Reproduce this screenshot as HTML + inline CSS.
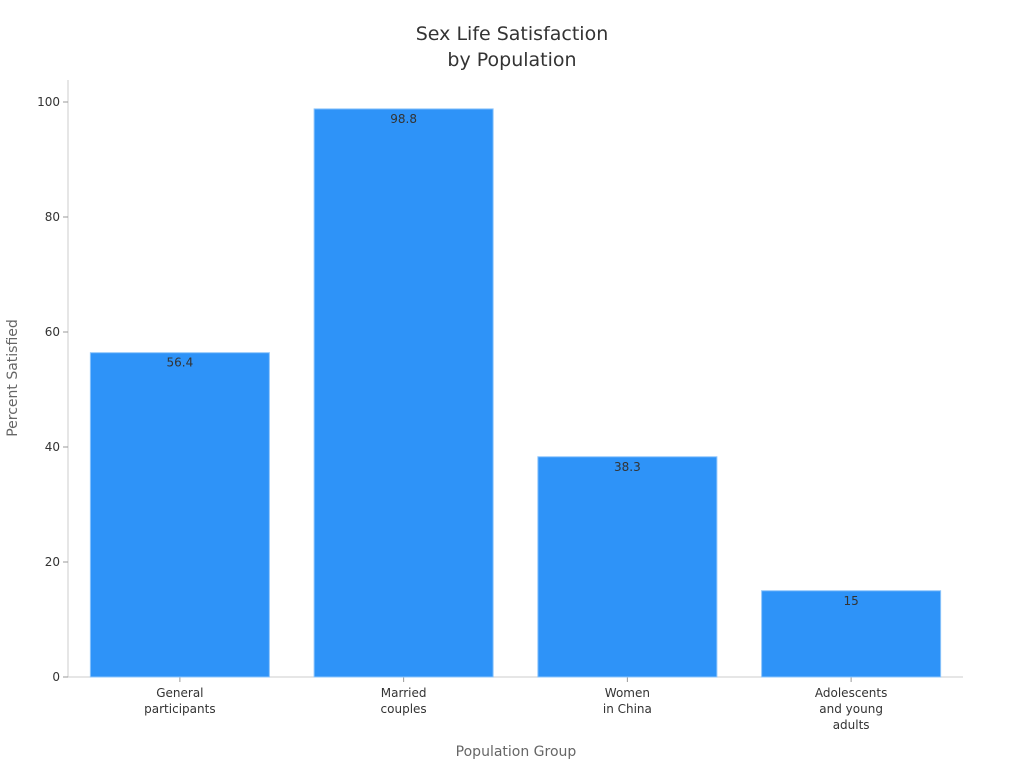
<!DOCTYPE html>
<html><head><meta charset="utf-8"><style>
body{margin:0;background:#fff;font-family:"DejaVu Sans","Liberation Sans",sans-serif;}
</style></head><body>
<svg width="1024" height="768" xmlns="http://www.w3.org/2000/svg" font-family="DejaVu Sans, Liberation Sans, sans-serif">
<text x="512" y="40" text-anchor="middle" font-size="19" fill="#333">Sex Life Satisfaction</text>
<text x="512" y="66" text-anchor="middle" font-size="19" fill="#333">by Population</text>
<g id="axes"></g>
<g id="bars"></g>
<text x="516" y="756" text-anchor="middle" font-size="14" fill="#666">Population Group</text>
<text transform="translate(17,378) rotate(-90)" text-anchor="middle" font-size="14" fill="#666">Percent Satisfied</text>
</svg>
<script>
const categories=[["General","participants"],["Married","couples"],["Women","in China"],["Adolescents","and young","adults"]];
const values=[56.4,98.8,38.3,15];
const yTicks=[0,20,40,60,80,100];
const NS="http://www.w3.org/2000/svg";
const x0=68,x1=963,yBase=677,yTop=102;
function y(v){return yBase-(v/100)*(yBase-yTop);}
const band=(x1-x0)/categories.length;
function bx(i){return x0+band*i+band*0.1;}
const bw=band*0.8;
function mk(tag,attrs,parent){const e=document.createElementNS(NS,tag);for(const k in attrs)e.setAttribute(k,attrs[k]);parent.appendChild(e);return e;}
const axes=document.getElementById('axes'),bars=document.getElementById('bars');
let l=mk('line',{x1:x0,x2:x0,y1:80,y2:yBase,stroke:'#ccc'},axes);


l=mk('line',{x1:x0,x2:x1,y1:yBase,y2:yBase,stroke:'#ccc'},axes);


yTicks.forEach(t=>{
 mk('line',{x1:x0-5,x2:x0,y1:y(t),y2:y(t),stroke:'#999'},axes);
 const tx=mk('text',{x:x0-8,y:y(t)+4,'text-anchor':'end','font-size':12,fill:'#333'},axes);
 tx.textContent=t;
 
 
});
categories.forEach((c,i)=>{
 const r=mk('rect',{x:bx(i),y:y(values[i]),width:bw,height:yBase-y(values[i]),fill:'#2e93f8',stroke:'#8cc4fb','stroke-width':1},bars);
 
 
 const cx=bx(i)+bw/2;
 const v=mk('text',{x:cx,y:y(values[i])+14,'text-anchor':'middle','font-size':12,fill:'#333'},bars);
 v.textContent=values[i];
 
 
 mk('line',{x1:cx,x2:cx,y1:yBase,y2:yBase+5,stroke:'#999'},axes);
 c.forEach((s,j)=>{
  const t=mk('text',{x:cx,y:697+j*16,'text-anchor':'middle','font-size':12,fill:'#333'},axes);
  t.textContent=s;
  
  
 });
});
</script>
</body></html>
